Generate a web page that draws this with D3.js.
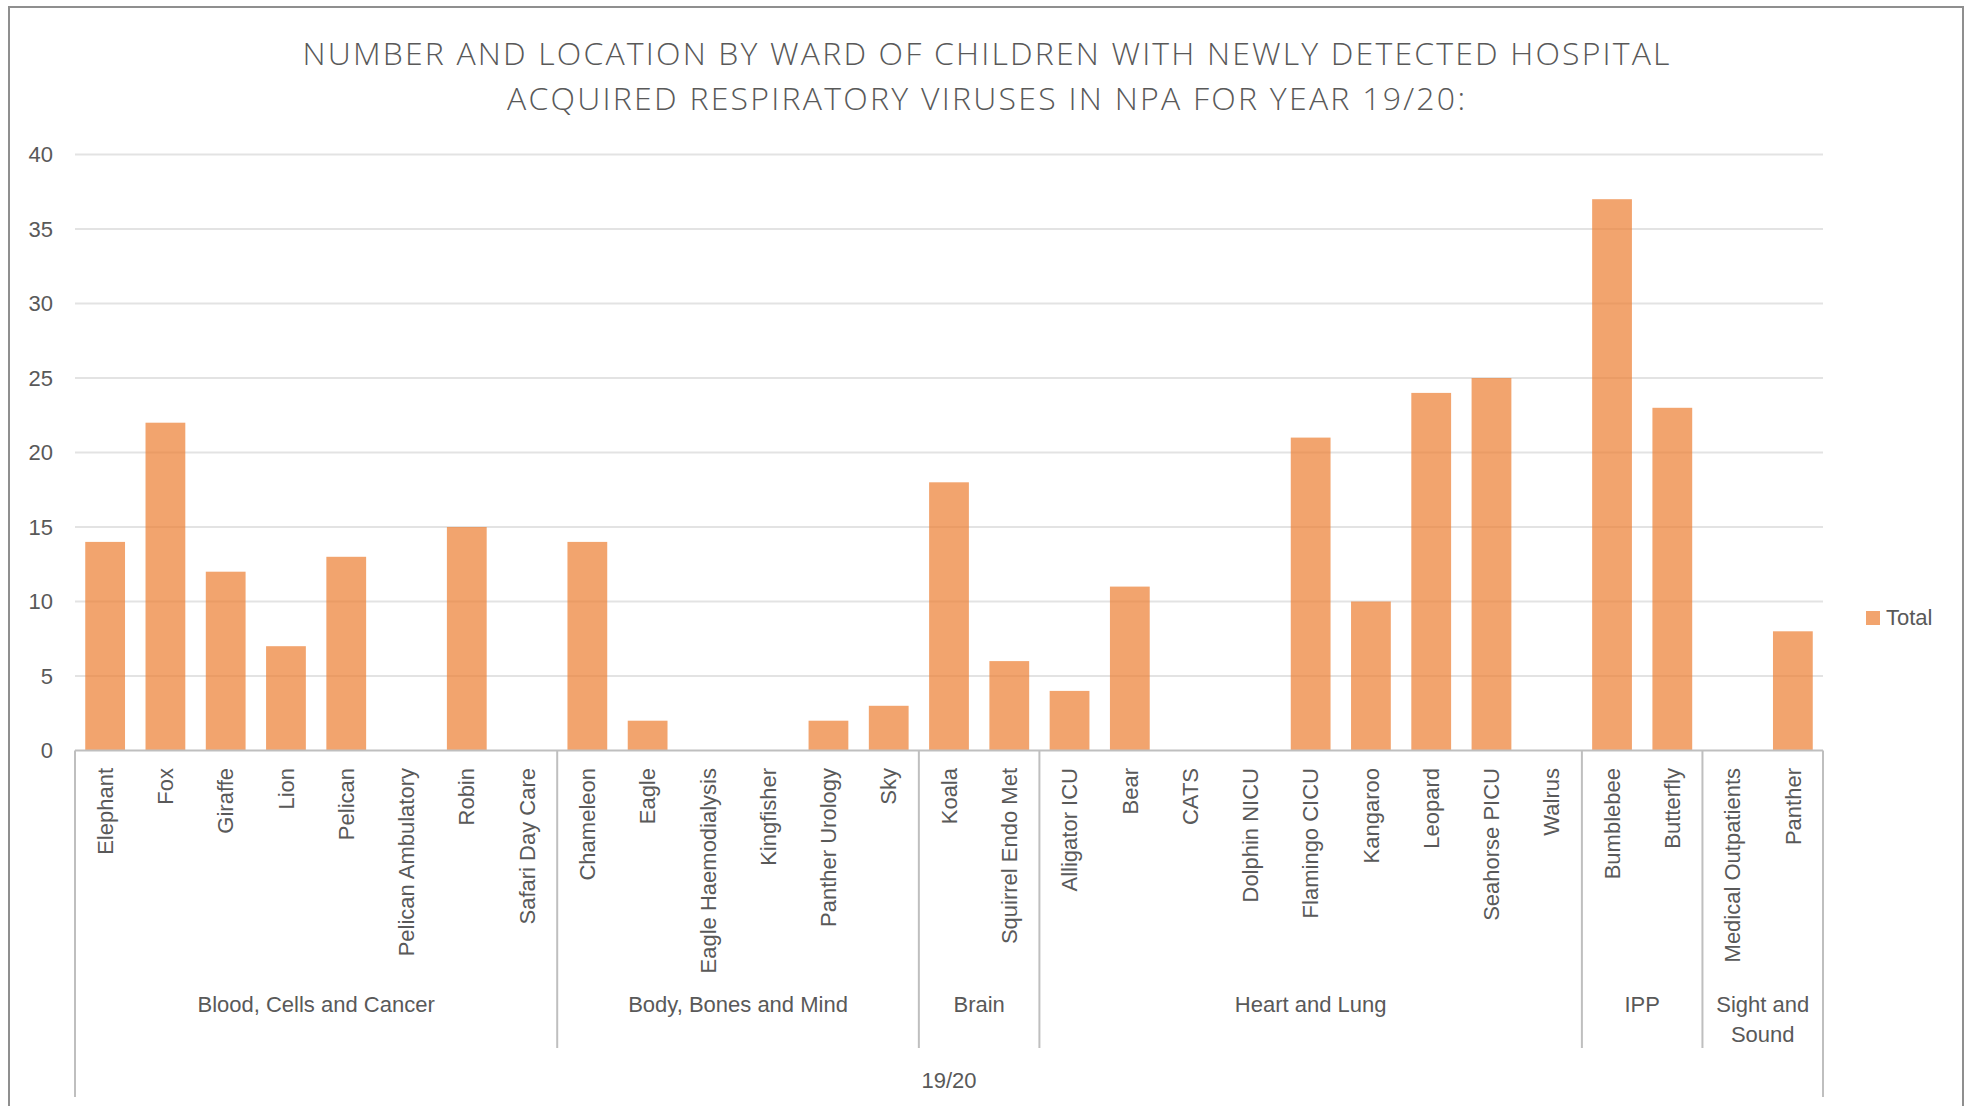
<!DOCTYPE html>
<html>
<head>
<meta charset="utf-8">
<script src="https://cdn.jsdelivr.net/npm/d3@7"></script>
<style>
  body { margin: 0; background: #fff; }
  svg { display: block; }
  text { fill: #595959; font-family: "Liberation Sans", Arial, sans-serif; }
</style>
</head>
<body>
<div id="chart"></div>
<script>
// ---- data ----
const titleLines = [
  'NUMBER AND LOCATION BY WARD OF CHILDREN WITH NEWLY DETECTED HOSPITAL',
  'ACQUIRED RESPIRATORY VIRUSES IN NPA FOR YEAR 19/20:',
];

const wards = [
  'Elephant', 'Fox', 'Giraffe', 'Lion', 'Pelican', 'Pelican Ambulatory', 'Robin', 'Safari Day Care',
  'Chameleon', 'Eagle', 'Eagle Haemodialysis', 'Kingfisher', 'Panther Urology', 'Sky',
  'Koala', 'Squirrel Endo Met',
  'Alligator ICU', 'Bear', 'CATS', 'Dolphin NICU', 'Flamingo CICU', 'Kangaroo', 'Leopard', 'Seahorse PICU', 'Walrus',
  'Bumblebee', 'Butterfly',
  'Medical Outpatients', 'Panther',
];

const groupNames = ['Blood, Cells and Cancer', 'Body, Bones and Mind', 'Brain', 'Heart and Lung', 'IPP', 'Sight and Sound'];
const groupSizes = [8, 6, 2, 9, 2, 2];

// blank wards have no bar
const totals = [
  14, 22, 12, 7, 13, null, 15, null,
  14, 2, null, null, 2, 3,
  18, 6,
  4, 11, null, null, 21, 10, 24, 25, null,
  37, 23,
  null, 8,
];

const yTicks = [0, 5, 10, 15, 20, 25, 30, 35, 40];
const yearLabel = '19/20';
const seriesName = 'Total';

// ---- layout ----
const width = 1971;
const height = 1106;
const plot = { left: 75, right: 1823, top: 154.5, bottom: 750.5 };
const barColor = '#ED7D31';
const lineColor = '#bfbfbf';

const svg = d3.select('#chart').append('svg')
  .attr('width', width)
  .attr('height', height);

// chart frame (runs past the bottom edge like the screenshot)
svg.append('rect')
  .attr('x', 9).attr('y', 7)
  .attr('width', 1954).attr('height', 1130)
  .attr('fill', '#fff')
  .attr('stroke', '#8f8f8f')
  .attr('stroke-width', 2);

const x = d3.scaleBand()
  .domain(wards)
  .range([plot.left, plot.right])
  .paddingInner(0.34)
  .paddingOuter(0.17);

const y = d3.scaleLinear()
  .domain([0, 40])
  .range([plot.bottom, plot.top]);

const step = x.step();
const slotStart = (w) => x(w) - (step - x.bandwidth()) / 2;

// title
svg.append('g').attr('class', 'title')
  .selectAll('text')
  .data(titleLines)
  .join('text')
  .attr('x', 986)
  .attr('y', (d, i) => 65 + i * 45)
  .attr('text-anchor', 'middle')
  .attr('textLength', (d, i) => (i === 0 ? 1367 : 958))
  .attr('lengthAdjust', 'spacing')
  .style('font-family', '"Open Sans", "Liberation Sans", sans-serif')
  .style('font-weight', 300)
  .style('font-size', '32px')
  .text(d => d);

// gridlines
svg.append('g').attr('class', 'grid')
  .selectAll('line')
  .data(yTicks.filter(t => t > 0))
  .join('line')
  .attr('x1', plot.left)
  .attr('x2', plot.right)
  .attr('y1', d => y(d))
  .attr('y2', d => y(d))
  .attr('stroke', '#e3e3e3')
  .attr('stroke-width', 2);

// y axis labels
const yAxis = svg.append('g')
  .attr('transform', `translate(${plot.left},0)`)
  .call(d3.axisLeft(y).tickValues(yTicks).tickSize(0).tickPadding(22));
yAxis.select('.domain').remove();
yAxis.selectAll('text')
  .style('font-family', '"Liberation Sans", Arial, sans-serif')
  .style('font-size', '22px')
  .attr('fill', '#595959');

// bars
svg.append('g').attr('class', 'bars')
  .selectAll('rect')
  .data(wards.map((w, i) => ({ ward: w, value: totals[i] })).filter(d => d.value != null))
  .join('rect')
  .attr('x', d => x(d.ward))
  .attr('width', x.bandwidth())
  .attr('y', d => y(d.value))
  .attr('height', d => y(0) - y(d.value))
  .attr('fill', barColor)
  .attr('fill-opacity', 0.7);

// category axis line
svg.append('line')
  .attr('x1', plot.left).attr('x2', plot.right)
  .attr('y1', y(0)).attr('y2', y(0))
  .attr('stroke', lineColor)
  .attr('stroke-width', 2);

// ward labels
svg.append('g').attr('class', 'ward-labels')
  .selectAll('text')
  .data(wards)
  .join('text')
  .attr('transform', d => `translate(${x(d) + x.bandwidth() / 2},768) rotate(-90)`)
  .attr('text-anchor', 'end')
  .attr('dy', '0.35em')
  .style('font-size', '22px')
  .text(d => d);

// groups: start / end ward index
let acc = 0;
const groups = groupNames.map((name, i) => {
  const g = { name, first: wards[acc], last: wards[acc + groupSizes[i] - 1] };
  acc += groupSizes[i];
  g.x0 = slotStart(g.first);
  g.x1 = slotStart(g.last) + step;
  return g;
});

// separators between groups, outer edges run down to the year row
const seps = groups.map((g, i) => ({ x: g.x0, outer: i === 0 }))
  .concat([{ x: groups[groups.length - 1].x1, outer: true }]);

svg.append('g').attr('class', 'separators')
  .selectAll('line')
  .data(seps)
  .join('line')
  .attr('x1', d => d.x).attr('x2', d => d.x)
  .attr('y1', y(0))
  .attr('y2', d => (d.outer ? 1097 : 1048))
  .attr('stroke', lineColor)
  .attr('stroke-width', 2);

// group labels, wrapped when wider than their span
const groupLabels = svg.append('g').attr('class', 'group-labels')
  .selectAll('text')
  .data(groups)
  .join('text')
  .attr('x', d => (d.x0 + d.x1) / 2)
  .attr('y', 1012)
  .attr('text-anchor', 'middle')
  .style('font-size', '22px');

groupLabels.each(function (d) {
  const el = d3.select(this);
  const maxW = d.x1 - d.x0 - 12;
  const words = d.name.split(' ');
  let line = [];
  let tspan = el.append('tspan').attr('x', (d.x0 + d.x1) / 2).attr('dy', 0);
  words.forEach((w) => {
    line.push(w);
    tspan.text(line.join(' '));
    if (tspan.node().getComputedTextLength() > maxW && line.length > 1) {
      line.pop();
      tspan.text(line.join(' '));
      line = [w];
      tspan = el.append('tspan').attr('x', (d.x0 + d.x1) / 2).attr('dy', 30).text(w);
    }
  });
});

// year label
svg.append('text')
  .attr('x', (plot.left + plot.right) / 2)
  .attr('y', 1088)
  .attr('text-anchor', 'middle')
  .style('font-size', '22px')
  .text(yearLabel);

// legend
const legend = svg.append('g').attr('transform', 'translate(1866,611)');
legend.append('rect')
  .attr('width', 14).attr('height', 14)
  .attr('fill', barColor)
  .attr('fill-opacity', 0.7);
legend.append('text')
  .attr('x', 20).attr('y', 14)
  .style('font-size', '22px')
  .text(seriesName);
</script>
</body>
</html>
